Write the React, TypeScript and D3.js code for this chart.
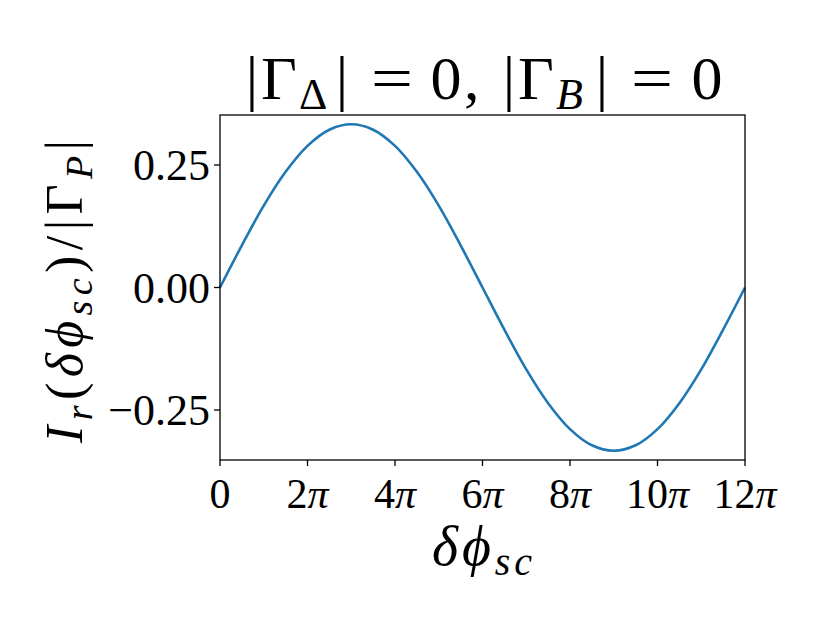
import React from "react";
import * as d3 from "d3";

// x positions in units of π (δφ_sc / π)
const xInPi: number[] = [0, 0.5, 1, 1.5, 2, 2.5, 3, 3.5, 4, 4.5, 5, 5.5, 6, 6.5, 7, 7.5, 8, 8.5, 9, 9.5, 10, 10.5, 11, 11.5, 12];
const yValues: number[] = [0, 0.086, 0.167, 0.236, 0.289, 0.322, 0.333, 0.322, 0.289, 0.236, 0.167, 0.086, 0, -0.086, -0.167, -0.236, -0.289, -0.322, -0.333, -0.322, -0.289, -0.236, -0.167, -0.086, 0];
const xTickValues: number[] = [0, 2, 4, 6, 8, 10, 12];
const xTickLabels: string[] = ["0", "2", "4", "6", "8", "10", "12"];
const yTickValues: number[] = [-0.25, 0, 0.25];
const yTickLabels: string[] = ["\u22120.25", "0.00", "0.25"];

const W = 830;
const H = 623;
const L = 220, R = 745, T = 115, B = 460;
const FONT = "'Liberation Serif', 'DejaVu Serif', serif";

type Piece = { t: string; x: number; anchor: "start" | "middle"; sub?: boolean; italic?: boolean; len?: number };
const titlePieces: Piece[] = [
  { t: "|", x: 252, anchor: "middle" },
  { t: "Γ", x: 261, anchor: "start" },
  { t: "Δ", x: 299, anchor: "start", sub: true },
  { t: "|", x: 342, anchor: "middle" },
  { t: "=", x: 392, anchor: "middle", len: 42 },
  { t: "0", x: 446, anchor: "middle" },
  { t: ",", x: 464, anchor: "start" },
  { t: "|", x: 509, anchor: "middle" },
  { t: "Γ", x: 518, anchor: "start" },
  { t: "B", x: 556, anchor: "start", sub: true, italic: true },
  { t: "|", x: 602, anchor: "middle" },
  { t: "=", x: 652, anchor: "middle", len: 42 },
  { t: "0", x: 707, anchor: "middle" },
];

export default function App() {
  const x = d3.scaleLinear().domain([0, 12]).range([L, R]);
  const y = d3.scaleLinear().domain([-0.352, 0.352]).range([B, T]);
  const line = d3
    .line<number>()
    .x((_, i) => x(xInPi[i]))
    .y((d) => y(d))
    .curve(d3.curveCatmullRom);
  const path = line(yValues) || "";

  return (
    <svg width={W} height={H} style={{ position: "absolute", left: 0, top: 0, background: "#fff" }} fontFamily={FONT}>
      <rect x={0} y={0} width={W} height={H} fill="#fff" />
      <path d={path} fill="none" stroke="#1f77b4" strokeWidth={2.6} />
      <rect x={L} y={T} width={R - L} height={B - T} fill="none" stroke="#000" strokeWidth={1.3} />
      {/* x ticks */}
      {xTickValues.map((v, i) => (
        <g key={"xt" + i}>
          <line x1={x(v)} x2={x(v)} y1={B} y2={B + 6} stroke="#000" strokeWidth={1.3} />
          <text x={x(v)} y={B + 48} fontSize={42} textAnchor="middle">
            {xTickLabels[i]}
            {v !== 0 ? <tspan fontStyle="italic">π</tspan> : null}
          </text>
        </g>
      ))}
      {/* y ticks */}
      {yTickValues.map((v, i) => (
        <g key={"yt" + i}>
          <line x1={L - 6} x2={L} y1={y(v)} y2={y(v)} stroke="#000" strokeWidth={1.3} />
          <text x={L - 10} y={y(v) + 15} fontSize={44} textAnchor="end">
            {yTickLabels[i]}
          </text>
        </g>
      ))}
      {/* title */}
      {titlePieces.map((p, i) =>
        p.len ? (
          <text
            key={"ti" + i}
            x={p.x - p.len / 2}
            y={99}
            fontSize={62}
            textLength={p.len}
            lengthAdjust="spacingAndGlyphs"
          >
            {p.t}
          </text>
        ) : (
          <text
            key={"ti" + i}
            x={p.x}
            y={p.sub ? 109 : 99}
            fontSize={p.sub ? 44 : 62}
            textAnchor={p.anchor}
            fontStyle={p.italic ? "italic" : "normal"}
          >
            {p.t}
          </text>
        )
      )}
      {/* x label */}
      <text x={432} y={565} fontSize={56} textLength={100} lengthAdjust="spacing" fontStyle="italic">
        δϕ<tspan fontSize={40} dy={10}>sc</tspan>
      </text>
      {/* y label */}
      <text transform={`translate(82, 443) rotate(-90)`} fontSize={52} textLength={303} lengthAdjust="spacing">
        <tspan fontStyle="italic">I</tspan>
        <tspan fontSize={38} dy={10} fontStyle="italic">r</tspan>
        <tspan dy={-10}>(</tspan>
        <tspan fontStyle="italic">δϕ</tspan>
        <tspan fontSize={38} dy={10} fontStyle="italic">sc</tspan>
        <tspan dy={-10}>)/|Γ</tspan>
        <tspan fontSize={38} dy={10} fontStyle="italic">P</tspan>
        <tspan dy={-10}>|</tspan>
      </text>
    </svg>
  );
}
